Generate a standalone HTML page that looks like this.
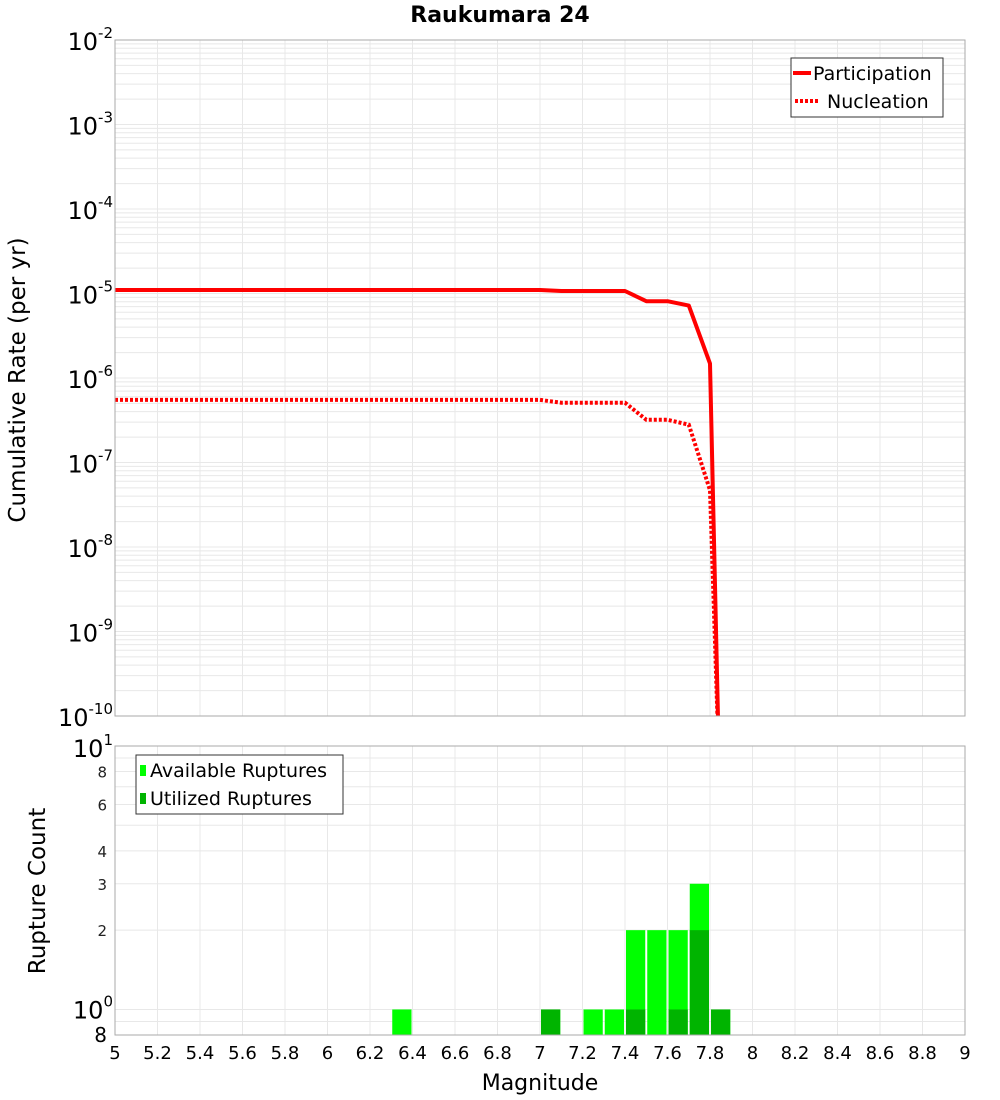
<!DOCTYPE html>
<html><head><meta charset="utf-8"><style>
body{margin:0;background:#fff;}
svg{display:block;font-family:"DejaVu Sans","Liberation Sans",sans-serif;}
</style></head><body>
<svg id="c" width="1000" height="1100" xmlns="http://www.w3.org/2000/svg">
<text x="500" y="22" text-anchor="middle" font-size="22" font-weight="bold">Raukumara 24</text>
<g id="topPlot"></g>
<g id="botPlot"></g>
<text transform="translate(25,380) rotate(-90)" text-anchor="middle" font-size="23">Cumulative Rate (per yr)</text>
<text transform="translate(45,891) rotate(-90)" text-anchor="middle" font-size="23">Rupture Count</text>
<text x="540" y="1090" text-anchor="middle" font-size="22">Magnitude</text>
<g>
<rect x="791" y="58" width="152" height="59" fill="#fff" stroke="#333" stroke-width="1"/>
<line x1="793" y1="73" x2="811" y2="73" stroke="#f00" stroke-width="4"/>
<text x="813" y="80" font-size="19">Participation</text>
<line x1="795" y1="101" x2="820" y2="101" stroke="#f00" stroke-width="4" stroke-dasharray="3,2"/>
<text x="827" y="108" font-size="19">Nucleation</text>
</g>
<g>
<rect x="136" y="755" width="207" height="59" fill="#fff" stroke="#333" stroke-width="1"/>
<rect x="140" y="765" width="6" height="11" fill="#00ff00"/>
<text x="150" y="777" font-size="19">Available Ruptures</text>
<rect x="140" y="793" width="6" height="11" fill="#00b400"/>
<text x="150" y="805" font-size="19">Utilized Ruptures</text>
</g>
</svg>
<script>
const mags=[5.0,5.1,5.2,5.3,5.4,5.5,5.6,5.7,5.8,5.9,6.0,6.1,6.2,6.3,6.4,6.5,6.6,6.7,6.8,6.9,7.0,7.1,7.2,7.3,7.4,7.5,7.6,7.7,7.8,7.9];
const participation=[1.1e-5,1.1e-5,1.1e-5,1.1e-5,1.1e-5,1.1e-5,1.1e-5,1.1e-5,1.1e-5,1.1e-5,1.1e-5,1.1e-5,1.1e-5,1.1e-5,1.1e-5,1.1e-5,1.1e-5,1.1e-5,1.1e-5,1.1e-5,1.1e-5,1.07e-5,1.07e-5,1.07e-5,1.07e-5,8.1e-6,8.1e-6,7.2e-6,1.48e-6,1e-17];
const nucleation=[5.5e-7,5.5e-7,5.5e-7,5.5e-7,5.5e-7,5.5e-7,5.5e-7,5.5e-7,5.5e-7,5.5e-7,5.5e-7,5.5e-7,5.5e-7,5.5e-7,5.5e-7,5.5e-7,5.5e-7,5.5e-7,5.5e-7,5.5e-7,5.5e-7,5.1e-7,5.1e-7,5.1e-7,5.1e-7,3.2e-7,3.2e-7,2.8e-7,4.7e-8,1e-15];
const binCenters=[6.35,7.05,7.25,7.35,7.45,7.55,7.65,7.75,7.85];
const available=[1,1,1,1,2,2,2,3,1];
const utilized=[0,1,0,0,1,0,1,2,1];
const xTicks=[5,5.2,5.4,5.6,5.8,6,6.2,6.4,6.6,6.8,7,7.2,7.4,7.6,7.8,8,8.2,8.4,8.6,8.8,9];
const xTickLabels=["5","5.2","5.4","5.6","5.8","6","6.2","6.4","6.6","6.8","7","7.2","7.4","7.6","7.8","8","8.2","8.4","8.6","8.8","9"];
const topDecades=[-2,-3,-4,-5,-6,-7,-8,-9,-10];
const botMinor=[2,3,4,6,8];

const NS="http://www.w3.org/2000/svg";
const X0=115,X1=965,T0=40,T1=716,B0=746,B1=1035;
const xs=m=>X0+(m-5)/4*(X1-X0);
const yT=v=>T0+(-2-Math.log10(v))/8*(T1-T0);
const BL0=Math.log10(0.8),BL1=1;
const yB=v=>B1-(Math.log10(v)-BL0)/(BL1-BL0)*(B1-B0);
function mk(p,t,a){const e=document.createElementNS(NS,t);for(const k in a)e.setAttribute(k,a[k]);p.appendChild(e);return e;}
const topG=document.getElementById('topPlot'),botG=document.getElementById('botPlot');
mk(topG,'rect',{x:X0,y:T0,width:X1-X0,height:T1-T0,fill:'#fff'});
mk(botG,'rect',{x:X0,y:B0,width:X1-X0,height:B1-B0,fill:'#fff'});
for(const t of xTicks){
 const g1=mk(topG,'line',{x1:xs(t),x2:xs(t),y1:T0,y2:T1,stroke:'#e8e8e8'});
 
 
 const g2=mk(botG,'line',{x1:xs(t),x2:xs(t),y1:B0,y2:B1,stroke:'#e8e8e8'});
 
 
}
for(let d=-10;d<-2;d++){for(let k=1;k<10;k++){const y=yT(k*Math.pow(10,d));
 const g=mk(topG,'line',{x1:X0,x2:X1,y1:y,y2:y,stroke:'#e8e8e8'});
 
 }}
for(const v of [0.8,0.9,1,2,3,4,5,6,7,8,9,10]){const y=yB(v);
 const g=mk(botG,'line',{x1:X0,x2:X1,y1:y,y2:y,stroke:'#e8e8e8'});
 
 }
for(const d of topDecades){const t=mk(topG,'text',{x:113,y:yT(Math.pow(10,d))+10,'text-anchor':'end','font-size':24});
 
 
 t.innerHTML='10<tspan dy="-12" font-size="15">'+d+'</tspan>';}
function path(vals){let s='';mags.forEach((m,i)=>{s+=(i?'L':'M')+xs(m).toFixed(1)+','+yT(vals[i]).toFixed(1);});return s;}
const cp=mk(topG,'clipPath',{id:'cp'});mk(cp,'rect',{x:X0,y:T0,width:X1-X0,height:T1-T0});
const pl=mk(topG,'path',{d:path(participation),fill:'none',stroke:'#f00','stroke-width':4,'clip-path':'url(#cp)','stroke-linejoin':'round'});


const nl=mk(topG,'path',{d:path(nucleation),fill:'none',stroke:'#f00','stroke-width':4,'stroke-dasharray':'3,2','clip-path':'url(#cp)'});


mk(topG,'rect',{x:X0,y:T0,width:X1-X0,height:T1-T0,fill:'none',stroke:'#aaa'});
const bw=(xs(5.1)-xs(5));
binCenters.forEach((c,i)=>{
 const x=xs(c)-bw/2+1;
 const a=mk(botG,'rect',{x:x,y:yB(available[i]),width:bw-2,height:B1-yB(available[i]),fill:'#00ff00'});
 
 
 if(utilized[i]>0){const u=mk(botG,'rect',{x:x,y:yB(utilized[i]),width:bw-2,height:B1-yB(utilized[i]),fill:'#00b400'});
 
 }
});
mk(botG,'rect',{x:X0,y:B0,width:X1-X0,height:B1-B0,fill:'none',stroke:'#aaa'});
let t=mk(botG,'text',{x:113,y:B0+11,'text-anchor':'end','font-size':24});t.innerHTML='10<tspan dy="-12" font-size="15">1</tspan>';


t=mk(botG,'text',{x:113,y:yB(1)+9,'text-anchor':'end','font-size':24});t.innerHTML='10<tspan dy="-12" font-size="15">0</tspan>';


t=mk(botG,'text',{x:107,y:B1+7,'text-anchor':'end','font-size':20});t.textContent='8';


for(const v of botMinor){const e=mk(botG,'text',{x:107,y:yB(v)+6,'text-anchor':'end','font-size':15,fill:'#222'});e.textContent=v;
 
 }
xTicks.forEach((v,i)=>{const e=mk(botG,'text',{x:xs(v),y:1059,'text-anchor':'middle','font-size':18});e.textContent=xTickLabels[i];
 
 });
</script>
</body></html>
